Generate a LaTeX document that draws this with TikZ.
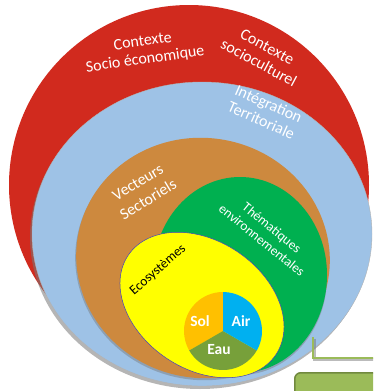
\documentclass[tikz,border=0pt]{standalone}
\usepackage{fontspec}
\setmainfont{Carlito}
\definecolor{cred}{RGB}{209,42,30}
\definecolor{cblue}{RGB}{158,194,230}
\definecolor{cbrown}{RGB}{205,137,62}
\definecolor{cgreen}{RGB}{0,176,80}
\definecolor{cyellow}{RGB}{255,255,0}
\definecolor{corange}{RGB}{255,192,0}
\definecolor{ccyan}{RGB}{0,176,240}
\definecolor{colive}{RGB}{119,160,58}
\definecolor{cbox}{RGB}{155,187,89}
\definecolor{cboxedge}{RGB}{113,137,63}
\definecolor{cshadow}{RGB}{120,120,120}
\begin{document}
\begin{tikzpicture}[x=1pt,y=-1pt,
  wtext/.style={text=white, align=center, inner sep=0pt, font=\fontsize{16}{18}\selectfont},
  stext/.style={text=white, align=center, inner sep=0pt, font=\fontsize{13.5}{16}\selectfont},
  ptext/.style={text=white, inner sep=0pt, font=\fontsize{15.5}{17}\selectfont\bfseries},
  boxstyle/.style={draw=cboxedge, fill=cbox, line width=1.5pt, rounded corners=6pt, anchor=north west, minimum width=110pt, minimum height=50pt},
  connector/.style={draw=cbox, line width=2.5pt}]
\useasboundingbox (0,0) rectangle (373,391);
\clip (0,0) rectangle (373,391);
% outer red
\fill[cred, shift={(189,185)}] (0,0) ellipse [x radius=180pt, y radius=180pt];
% blue with shadow
\fill[cshadow, opacity=0.55, shift={(200,237)}] (0,0) ellipse [x radius=170pt, y radius=152pt];
\fill[cblue, draw=gray!60, line width=0.4pt, shift={(202,234)}] (0,0) ellipse [x radius=170pt, y radius=152pt];
% brown
\fill[cshadow, opacity=0.45, shift={(202,260)}, rotate=-10] (0,0) ellipse [x radius=127pt, y radius=120pt];
\fill[cbrown, shift={(203,258)}, rotate=-10] (0,0) ellipse [x radius=127pt, y radius=120pt];
% green
\fill[cshadow, opacity=0.45, shift={(240,277)}] (0,0) ellipse [x radius=87pt, y radius=98pt];
\fill[cgreen, shift={(240,275)}] (0,0) ellipse [x radius=87pt, y radius=98pt];
% yellow
\filldraw[fill=cyellow, draw=blue!50!gray, line width=0.5pt, shift={(202,305)}, rotate=-34] (0,0) ellipse [x radius=89pt, y radius=64pt];
% pie
\fill[corange] (223,331) -- ++(90:39pt) arc[start angle=90, end angle=210, radius=39pt] -- cycle;
\fill[colive] (223,331) -- ++(210:39pt) arc[start angle=210, end angle=330, radius=39pt] -- cycle;
\fill[ccyan] (223,331) -- ++(330:39pt) arc[start angle=330, end angle=450, radius=39pt] -- cycle;
% texts
\node[wtext, rotate=8] (t1) at (144,51) {Contexte\\Socio économique};
\node[wtext, rotate=-28] (t2) at (263,55) {Contexte\\socioculturel};
\node[wtext, rotate=-24] (t3) at (265,112) {Intégration\\Territoriale};
\node[wtext, rotate=31, font=\fontsize{16}{20}\selectfont] (t4) at (143,191) {Vecteurs\\Sectoriels};
\node[stext, rotate=-39] (t5) at (267,234) {Thématiques\\environnementales};
\node[stext, text=black, rotate=41] (t6) at (158,270) {Ecosystèmes};
\node[ptext] (sol) at (200,321) {Sol};
\node[ptext] (air) at (241,321) {Air};
\node[ptext] (eau) at (219,350) {Eau};
% connector and box
\coordinate (c1) at (313,337);
\coordinate (c2) at (385,358);
\draw[cshadow, opacity=0.5, line width=2.5pt] (314.5,338.5) |- (386,359.5);
\draw[connector] (c1) |- (c2);
\node[boxstyle] (bx) at (294,372) {};
\end{tikzpicture}
\end{document}
